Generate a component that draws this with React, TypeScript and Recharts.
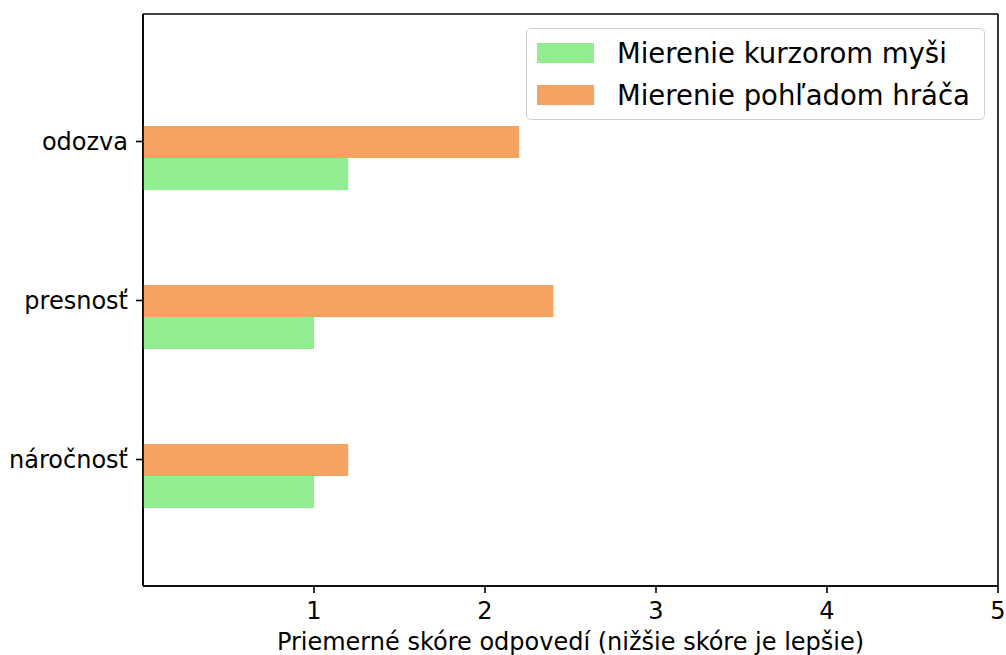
import React from "react";
import { BarChart, Bar, XAxis, YAxis, Legend, CartesianGrid } from "recharts";

const categories = ["odozva", "presnosť", "náročnosť"];
const mouseScores = [1.2, 1.0, 1.0];
const gazeScores = [2.2, 2.4, 1.2];
const xTicks = [1, 2, 3, 4, 5];

const mouseLabel = "Mierenie kurzorom myši";
const gazeLabel = "Mierenie pohľadom hráča";
const xAxisTitle = "Priemerné skóre odpovedí (nižšie skóre je lepšie)";

const GREEN = "#90ee90";
const ORANGE = "#f4a460";
const FONT = "'DejaVu Sans', sans-serif";

const data = categories.map((name, i) => ({
  name,
  spacer: 0,
  mouse: mouseScores[i],
  gaze: gazeScores[i],
}));

const legendItems = [
  { label: mouseLabel, color: GREEN },
  { label: gazeLabel, color: ORANGE },
];

function LegendBox() {
  return (
    <div
      style={{
        boxSizing: "border-box",
        width: 459,
        height: 92,
        border: "1.5px solid #d0d0d0",
        borderRadius: 5,
        background: "rgba(255,255,255,0.8)",
        fontFamily: FONT,
        fontSize: 27.5,
        color: "#000",
        paddingTop: 3,
      }}
    >
      {legendItems.map((it) => (
        <div key={it.label} style={{ display: "flex", alignItems: "center", height: 42 }}>
          <span style={{ display: "inline-block", width: 57, height: 20, background: it.color, marginLeft: 10 }} />
          <span style={{ marginLeft: 23, lineHeight: "42px", whiteSpace: "nowrap" }}>{it.label}</span>
        </div>
      ))}
    </div>
  );
}

// frame lines on the plot edges, taken from the chart offset
const frameX = ({ offset }: any) => [offset.left, offset.left + offset.width];
const frameY = ({ offset }: any) => [offset.top, offset.top + offset.height];

export default function App() {
  return (
    <div style={{ position: "absolute", left: 0, top: 0, background: "#fff" }}>
      <BarChart
        width={1006}
        height={655}
        data={data}
        layout="vertical"
        margin={{ top: 14, right: 8, bottom: 9, left: 10 }}
        barSize={32}
        barGap={0}
      >
        <CartesianGrid
          stroke="#000"
          strokeWidth={1.6}
          verticalCoordinatesGenerator={frameX}
          horizontalCoordinatesGenerator={frameY}
        />
        <XAxis
          type="number"
          domain={[0, 5]}
          ticks={xTicks}
          allowDataOverflow
          height={60}
          stroke="#000"
          axisLine={{ stroke: "#000", strokeWidth: 1.6 }}
          tickLine={{ stroke: "#000", strokeWidth: 1.6 }}
          tickSize={7}
          tickMargin={9}
          tick={{ fontSize: 24, fill: "#000", fontFamily: FONT }}
          label={(props: any) => {
            const vb = props.viewBox;
            return (
              <text
                x={vb.x + vb.width / 2}
                y={vb.y + 64}
                textAnchor="middle"
                fontSize={24}
                fontFamily={FONT}
                fill="#000"
              >
                {xAxisTitle}
              </text>
            );
          }}
        />
        <YAxis
          type="category"
          dataKey="name"
          width={133}
          padding={{ top: 48, bottom: 47 }}
          axisLine={{ stroke: "#000", strokeWidth: 1.6 }}
          tickLine={{ stroke: "#000", strokeWidth: 1.6 }}
          tickSize={7}
          tickMargin={8}
          tick={{ fontSize: 24, fill: "#000", fontFamily: FONT }}
        />
        <Legend
          layout="vertical"
          align="center"
          verticalAlign="middle"
          wrapperStyle={{ position: "absolute", left: 526, top: 28, width: 459, height: 92 }}
          content={() => <LegendBox />}
        />
        <Bar dataKey="spacer" fill="transparent" legendType="none" isAnimationActive={false} />
        <Bar dataKey="gaze" name={gazeLabel} fill={ORANGE} isAnimationActive={false} />
        <Bar dataKey="mouse" name={mouseLabel} fill={GREEN} isAnimationActive={false} />
      </BarChart>
    </div>
  );
}
